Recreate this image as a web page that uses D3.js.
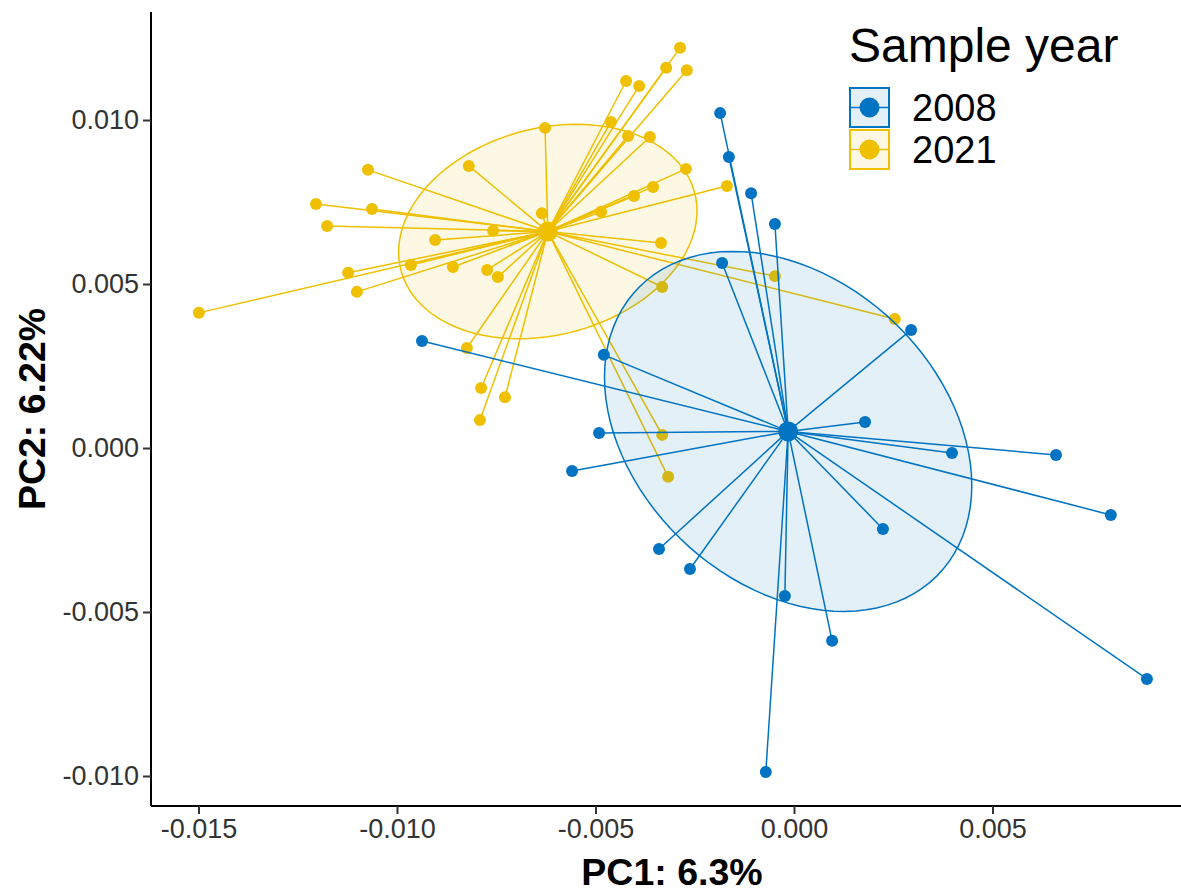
<!DOCTYPE html>
<html>
<head>
<meta charset="utf-8">
<script src="https://cdn.jsdelivr.net/npm/d3@7"></script>
<style>
  body { margin: 0; background: #fff; }
  text { font-family: "Liberation Sans", Arial, sans-serif; }
</style>
</head>
<body>
<div id="chart"></div>
<script>
// PC scores, 2021 samples
const pc1_2021 = [-0.01499, -0.01073, -0.01204, -0.01063, -0.01176, -0.00819, -0.00635, -0.00627, -0.00758, -0.00904,
    -0.00965, -0.00859, -0.00773, -0.00746, -0.01123, -0.01101, -0.00287, -0.00322, -0.00270, -0.00423,
    -0.00390, -0.00461, -0.00418, -0.00363, -0.00272, -0.00355, -0.00403, -0.00169, -0.00486, -0.00335,
    -0.00332, -0.00048, 0.00254, -0.00824, -0.00788, -0.00728, -0.00791, -0.00332, -0.00317]
const pc2_2021 = [0.00412, 0.00848, 0.00744, 0.00729, 0.00677, 0.00860, 0.00716, 0.00976, 0.00662, 0.00634,
    0.00558, 0.00552, 0.00543, 0.00521, 0.00534, 0.00476, 0.01220, 0.01159, 0.01152, 0.01119,
    0.01104, 0.00994, 0.00951, 0.00948, 0.00851, 0.00796, 0.00768, 0.00799, 0.00720, 0.00625,
    0.00491, 0.00524, 0.00393, 0.00305, 0.00183, 0.00155, 0.00085, 0.00040, -0.00088]

// PC scores, 2008 samples
const pc1_2008 = [-0.00186, -0.00164, -0.00108, -0.00048, -0.00181, 0.00295, -0.00937, -0.00479, 0.00179, -0.00491,
    0.00398, 0.00660, -0.00559, 0.00798, 0.00224, -0.00340, -0.00262, -0.00023, 0.00096, 0.00889, -0.00071]
const pc2_2008 = [0.01021, 0.00887, 0.00777, 0.00683, 0.00564, 0.00360, 0.00326, 0.00284, 0.00079, 0.00046,
    -0.00015, -0.00021, -0.00070, -0.00204, -0.00247, -0.00308, -0.00369, -0.00451, -0.00588, -0.00704, -0.00988]

const years = ['2008', '2021']
const colors = ['#0073C2', '#EFC000']
const xTicks = [-0.015, -0.010, -0.005, 0.000, 0.005]
const yTicks = [-0.010, -0.005, 0.000, 0.005, 0.010]

const groups = [
    { year: years[0], color: colors[0], pts: pc1_2008.map((d, i) => [d, pc2_2008[i]]) },
    { year: years[1], color: colors[1], pts: pc1_2021.map((d, i) => [d, pc2_2021[i]]) }
]

const width = 1181
const height = 893
const svg = d3.select('#chart')
    .append('svg')
    .attr('width', width)
    .attr('height', height)

const mLeft = 151, mRight = 1181, mTop = 12, mBottom = 806

const xScale = d3.scaleLinear()
    .domain([-0.016196, 0.009748])
    .range([mLeft, mRight])
const yScale = d3.scaleLinear()
    .domain([-0.010915, 0.013293])
    .range([mBottom, mTop])

// centroid + sd ellipse for a group
function stats(pts) {
    const mx = d3.mean(pts, d => d[0])
    const my = d3.mean(pts, d => d[1])
    const n = pts.length
    let sxx = 0, syy = 0, sxy = 0
    pts.forEach(d => {
        sxx += (d[0] - mx) * (d[0] - mx)
        syy += (d[1] - my) * (d[1] - my)
        sxy += (d[0] - mx) * (d[1] - my)
    })
    sxx /= (n - 1); syy /= (n - 1); sxy /= (n - 1)
    // cholesky
    const k = 1.015
    const a = Math.sqrt(sxx)
    const b = sxy / a
    const c = Math.sqrt(syy - b * b)
    const ell = d3.range(0, 101).map(j => {
        const t = j / 100 * 2 * Math.PI
        const u = Math.cos(t), v = Math.sin(t)
        return [mx + k * a * u, my + k * (b * u + c * v)]
    })
    return { mx, my, ell }
}

const plot = svg.append('g')

// yellow drawn first, blue over it
const order = [groups[1], groups[0]]
order.forEach(g => {
    const s = stats(g.pts)
    g.stats = s
    plot.append('g')
        .selectAll('line')
        .data(g.pts)
        .enter()
        .append('line')
        .attr('x1', xScale(s.mx))
        .attr('y1', yScale(s.my))
        .attr('x2', d => xScale(d[0]))
        .attr('y2', d => yScale(d[1]))
        .attr('stroke', g.color)
        .attr('stroke-width', 1.5)
    plot.append('g')
        .selectAll('circle')
        .data(g.pts)
        .enter()
        .append('circle')
        .attr('cx', d => xScale(d[0]))
        .attr('cy', d => yScale(d[1]))
        .attr('r', 6)
        .attr('fill', g.color)
    plot.append('circle')
        .attr('cx', xScale(s.mx))
        .attr('cy', yScale(s.my))
        .attr('r', 10)
        .attr('fill', g.color)
})

const line = d3.line()
    .x(d => xScale(d[0]))
    .y(d => yScale(d[1]))

order.forEach(g => {
    plot.append('path')
        .datum(g.stats.ell)
        .attr('d', line)
        .attr('fill', g.color)
        .attr('fill-opacity', 0.11)
        .attr('stroke', g.color)
        .attr('stroke-width', 1.5)
})

/* axes */
const xAxis = d3.axisBottom(xScale).tickValues(xTicks).tickFormat(d3.format('.3f')).tickSizeOuter(0).tickSize(8).tickPadding(5)
const yAxis = d3.axisLeft(yScale).tickValues(yTicks).tickFormat(d3.format('.3f')).tickSizeOuter(0).tickSize(8).tickPadding(4)

const gx = svg.append('g')
    .attr('transform', `translate(0,${mBottom})`)
    .call(xAxis)
gx.select('.domain').attr('stroke', '#000').attr('stroke-width', 2).attr('d', `M${mLeft},0H${mRight}`)
gx.selectAll('.tick line').attr('stroke', '#333').attr('stroke-width', 2)
gx.selectAll('.tick text')
    .attr('fill', '#333')
    .style('font-size', '27px')
    .text(d => d3.format('.3f')(d).replace('−', '-'))

const gy = svg.append('g')
    .attr('transform', `translate(${mLeft},0)`)
    .call(yAxis)
gy.select('.domain').attr('stroke', '#000').attr('stroke-width', 2).attr('d', `M0,${mTop}V${mBottom}`)
gy.selectAll('.tick line').attr('stroke', '#333').attr('stroke-width', 2)
gy.selectAll('.tick text')
    .attr('fill', '#333')
    .style('font-size', '27px')
    .text(d => d3.format('.3f')(d).replace('−', '-'))

/* x Label */
svg.append('text')
    .text('PC1: 6.3%')
    .attr('x', 672)
    .attr('y', 885)
    .attr('text-anchor', 'middle')
    .style('font-size', '37.5px')
    .style('font-weight', 'bold')
    .attr('fill', '#000')

/* y Label */
svg.append('text')
    .text('PC2: 6.22%')
    .attr('transform', `translate(45,${(mTop + mBottom) / 2}) rotate(-90)`)
    .attr('text-anchor', 'middle')
    .style('font-size', '37.5px')
    .style('font-weight', 'bold')
    .attr('fill', '#000')

/* legend */
const legend = svg.append('g').attr('transform', 'translate(849,0)')
legend.append('text')
    .text('Sample year')
    .attr('x', 0)
    .attr('y', 62)
    .style('font-size', '48px')
    .attr('fill', '#000')

groups.forEach((g, i) => {
    const ky = 88 + i * 42
    legend.append('rect')
        .attr('x', 1)
        .attr('y', ky)
        .attr('width', 39)
        .attr('height', 39)
        .attr('fill', g.color)
        .attr('fill-opacity', 0.11)
        .attr('stroke', g.color)
        .attr('stroke-width', 2)
    legend.append('line')
        .attr('x1', 1)
        .attr('x2', 40)
        .attr('y1', ky + 19.5)
        .attr('y2', ky + 19.5)
        .attr('stroke', g.color)
        .attr('stroke-width', 1.5)
    legend.append('circle')
        .attr('cx', 20.5)
        .attr('cy', ky + 19.5)
        .attr('r', 10)
        .attr('fill', g.color)
    legend.append('text')
        .text(g.year)
        .attr('x', 63)
        .attr('y', ky + 33)
        .style('font-size', '38px')
        .attr('fill', '#000')
})
</script>
</body>
</html>
